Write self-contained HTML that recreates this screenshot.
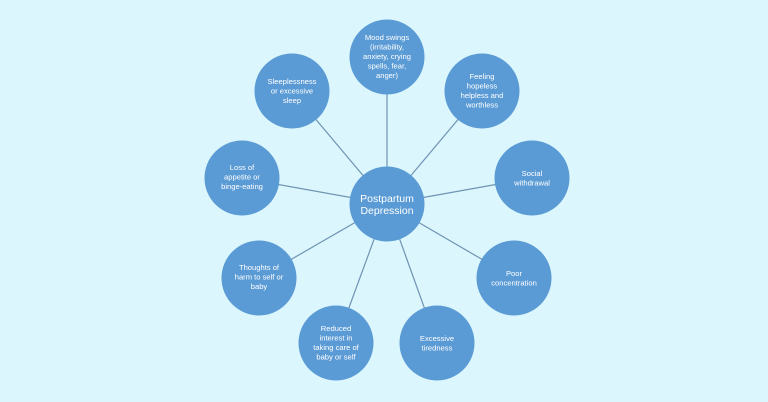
<!DOCTYPE html>
<html><head><style>
html,body{margin:0;padding:0;background:#dbf6fd;}
svg{display:block}
text{font-family:"Liberation Sans",sans-serif;fill:#fff;text-anchor:middle}
.s{font-size:7.6px}
</style></head><body>
<svg width="768" height="402" viewBox="0 0 768 402">
<rect width="768" height="402" fill="#dbf6fd"/>
<g stroke="#6f93b3" stroke-width="1.2">
<line x1="387" y1="204" x2="387" y2="57"/>
<line x1="387" y1="204" x2="482" y2="91"/>
<line x1="387" y1="204" x2="532" y2="178"/>
<line x1="387" y1="204" x2="514" y2="278"/>
<line x1="387" y1="204" x2="437" y2="343"/>
<line x1="387" y1="204" x2="336" y2="343"/>
<line x1="387" y1="204" x2="259" y2="278"/>
<line x1="387" y1="204" x2="242" y2="178"/>
<line x1="387" y1="204" x2="292" y2="91"/>
</g>
<g fill="#5b9bd5">
<circle cx="387" cy="204" r="37.5"/>
<circle cx="387" cy="57" r="37.5"/>
<circle cx="482" cy="91" r="37.5"/>
<circle cx="532" cy="178" r="37.5"/>
<circle cx="514" cy="278" r="37.5"/>
<circle cx="437" cy="343" r="37.5"/>
<circle cx="336" cy="343" r="37.5"/>
<circle cx="259" cy="278" r="37.5"/>
<circle cx="242" cy="178" r="37.5"/>
<circle cx="292" cy="91" r="37.5"/>
</g>
<text x="387" y="202" font-size="10.5">Postpartum</text>
<text x="387" y="214" font-size="10.5">Depression</text>
<g class="s">
<text x="387" y="40">Mood swings</text><text x="387" y="49.5">(irritability,</text><text x="387" y="59">anxiety, crying</text><text x="387" y="68.5">spells, fear,</text><text x="387" y="78">anger)</text>
<text x="482" y="79">Feeling</text><text x="482" y="88.5">hopeless</text><text x="482" y="98">helpless and</text><text x="482" y="107.5">worthless</text>
<text x="532" y="176">Social</text><text x="532" y="185.5">withdrawal</text>
<text x="514" y="276">Poor</text><text x="514" y="285.5">concentration</text>
<text x="437" y="341">Excessive</text><text x="437" y="350.5">tiredness</text>
<text x="336" y="331">Reduced</text><text x="336" y="340.5">interest in</text><text x="336" y="350">taking care of</text><text x="336" y="359.5">baby or self</text>
<text x="259" y="270">Thoughts of</text><text x="259" y="279.5">harm to self or</text><text x="259" y="289">baby</text>
<text x="242" y="170">Loss of</text><text x="242" y="179.5">appetite or</text><text x="242" y="189">binge-eating</text>
<text x="292" y="84">Sleeplessness</text><text x="292" y="93.5">or excessive</text><text x="292" y="103">sleep</text>
</g>
</svg>
</body></html>
